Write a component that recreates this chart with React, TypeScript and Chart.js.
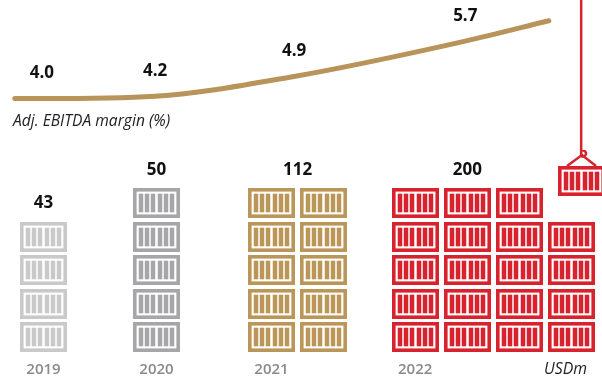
import React, { useEffect, useRef } from "react";
import { Chart, LinearScale, registerables } from "chart.js";

const years = ["2019", "2020", "2021", "2022"];
const revenue = [43, 50, 112, 200];
const marginValues = [4.0, 4.2, 4.9, 5.7];
const marginCurveStart = 4.0;
const marginCurveEnd = 6.08;
// Containers stacked in each column of a year; every container stands for USD 10m.
const stackHeights = [[4], [5], [5, 5], [5, 5, 5, 4]];
const yearColours = ["#c9c9c9", "#a6a6a8", "#ba9659", "#d8232f"];
const lineColour = "#b8935a";
const craneColour = "#d8232f";

// Horizontal layout in container-slot units.
const groupStart = [0, 2.165, 4.368, 7.12];
const marginSlots = [-0.03, 2.14, 4.8, 8.08];
const curveStartSlot = -0.55;
const curveEndSlot = 9.68;
const hangingSlot = 10.3;
const hangingRow = 4.65;
const cableRows = [5.43, 10.06];

const FONT = '"Open Sans", "Noto Sans", sans-serif';
const WIDTH = 602;
const HEIGHT = 380;
const BAR_OFFSETS = [6, 12, 18, 25, 31, 37];

function drawContainer(ctx: CanvasRenderingContext2D, x: number, y: number, colour: string) {
  ctx.fillStyle = colour;
  ctx.fillRect(x, y, 47, 30);
  ctx.fillStyle = "#ffffff";
  ctx.fillRect(x + 3.6, y + 3.6, 39.8, 22.8);
  ctx.fillStyle = colour;
  for (const bar of BAR_OFFSETS) ctx.fillRect(x + bar - 0.25, y + 5.7, 4.5, 18.6);
}

function containerIcon(colour: string) {
  const c = document.createElement("canvas");
  c.width = 47;
  c.height = 30;
  drawContainer(c.getContext("2d")!, 0, 0, colour);
  return c;
}

// Container with its sling and hook; the box stays centred so the point sits on the box.
function hangingIcon(colour: string) {
  const c = document.createElement("canvas");
  c.width = 47;
  c.height = 62;
  const ctx = c.getContext("2d")!;
  drawContainer(ctx, 0, 16, colour);
  ctx.strokeStyle = colour;
  ctx.lineWidth = 2.5;
  ctx.beginPath();
  ctx.moveTo(9, 16);
  ctx.lineTo(24, 5);
  ctx.lineTo(38, 16);
  ctx.stroke();
  ctx.beginPath();
  ctx.arc(25, 3.5, 3, -1.9, 2.2);
  ctx.stroke();
  return c;
}

// Linear scale whose values spread out as they grow, and which starts part-way up the plot.
class EasedBandScale extends LinearScale {
  static id = "easedBand";
  static defaults = LinearScale.defaults;
  getPixelForValue(value: number) {
    const o = this.options as any;
    const t = Math.max(0, (value - this.min) / (this.max - this.min));
    return this.getPixelForDecimal(o.floorFraction + (1 - o.floorFraction) * Math.pow(t, o.exponent));
  }
}

Chart.register(...registerables, EasedBandScale);

const labelsPlugin = {
  id: "valueLabels",
  // Keep the container icons sharp when they land between whole pixels.
  beforeDatasetsDraw(chart: any) {
    chart.ctx.imageSmoothingEnabled = false;
  },
  afterDatasetsDraw(chart: any) {
    const { ctx, scales } = chart;
    ctx.imageSmoothingEnabled = true;
    ctx.save();
    ctx.textAlign = "center";
    ctx.textBaseline = "middle";
    ctx.fillStyle = "#111111";
    ctx.font = `700 17px ${FONT}`;
    marginValues.forEach((v, i) => {
      ctx.fillText(v.toFixed(1), scales.x.getPixelForValue(marginSlots[i]), scales.yMargin.getPixelForValue(v) - 25);
    });
    revenue.forEach((v, i) => {
      const cols = stackHeights[i];
      const tallest = Math.max(...cols);
      const tall = cols.map((h, c) => (h === tallest ? c : -1)).filter((c) => c >= 0);
      const mid = tall.reduce((a, b) => a + b, 0) / tall.length;
      ctx.fillText(
        String(v),
        scales.x.getPixelForValue(groupStart[i] + mid),
        scales.yRows.getPixelForValue(tallest - 1) - 33,
      );
    });
    ctx.font = `italic 400 15.6px ${FONT}`;
    ctx.fillStyle = "#222222";
    ctx.textAlign = "left";
    ctx.fillText("Adj. EBITDA margin (%)", 13, 122);
    ctx.font = `italic 400 15.8px ${FONT}`;
    ctx.fillText("USDm", 544, 369);
    ctx.restore();
  },
};

export default function App() {
  const ref = useRef<HTMLCanvasElement>(null);
  useEffect(() => {
    document.body.style.margin = "0";
    const stacks = years.map((_, i) => ({
      label: years[i],
      data: stackHeights[i].flatMap((h, col) =>
        Array.from({ length: h }, (_, row) => ({ x: groupStart[i] + col, y: row })),
      ),
      yAxisID: "yRows",
      pointStyle: containerIcon(yearColours[i]),
      pointRadius: 24,
      showLine: false,
      clip: false,
    }));
    const chart = new Chart(ref.current!, {
      type: "scatter",
      data: {
        datasets: [
          {
            label: "Adj. EBITDA margin",
            data: [
              { x: curveStartSlot, y: marginCurveStart },
              ...marginValues.map((v, i) => ({ x: marginSlots[i], y: v })),
              { x: curveEndSlot, y: marginCurveEnd },
            ],
            yAxisID: "yMargin",
            showLine: true,
            cubicInterpolationMode: "monotone",
            borderColor: lineColour,
            borderWidth: 5,
            borderCapStyle: "round",
            pointRadius: 0,
          },
          {
            label: "Crane cable",
            data: cableRows.map((y) => ({ x: hangingSlot, y })),
            yAxisID: "yRows",
            showLine: true,
            borderColor: craneColour,
            borderWidth: 2.5,
            pointRadius: 0,
          },
          ...stacks,
          {
            label: "Next container",
            data: [{ x: hangingSlot, y: hangingRow }],
            yAxisID: "yRows",
            pointStyle: hangingIcon(yearColours[3]),
            pointRadius: 24,
            showLine: false,
            clip: false,
          },
        ],
      } as any,
      options: {
        responsive: false,
        animation: false,
        events: [],
        layout: { padding: 0, autoPadding: false },
        plugins: { legend: { display: false }, tooltip: { enabled: false } },
        scales: {
          x: {
            type: "linear",
            min: -0.833,
            max: 10.699,
            grid: { display: false },
            border: { display: false },
            afterBuildTicks: (s: any) => {
              s.ticks = groupStart.map((value) => ({ value }));
            },
            afterFit: (s: any) => {
              s.height = 28;
            },
            ticks: {
              autoSkip: false,
              maxRotation: 0,
              padding: 1,
              color: "#8a8a8c",
              font: { family: FONT, size: 15, weight: 600 },
              callback: (v: any) => years[groupStart.indexOf(Number(v))] ?? "",
            },
          },
          yRows: {
            type: "linear",
            display: false,
            min: -0.4478,
            max: 10.06,
          },
          yMargin: {
            type: "easedBand",
            display: false,
            min: 4,
            max: 6.435,
            floorFraction: 0.72,
            exponent: 1.5,
          },
        },
      } as any,
      plugins: [labelsPlugin],
    });
    return () => chart.destroy();
  }, []);
  return <canvas ref={ref} width={WIDTH} height={HEIGHT} style={{ display: "block" }} />;
}
